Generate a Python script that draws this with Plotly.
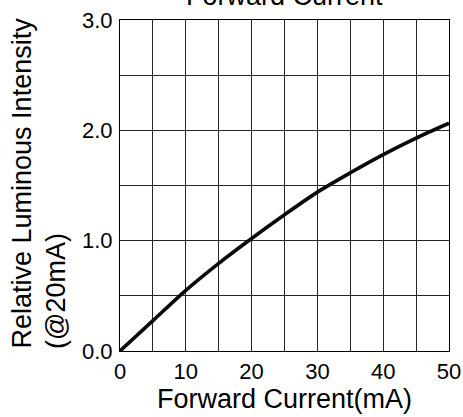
import plotly.graph_objects as go

# Forward current (mA) and relative luminous intensity (normalised at 20 mA)
current_ma = [0, 5, 10, 15, 20, 25, 30, 35, 40, 45, 50]
rel_intensity = [0.0, 0.275, 0.55, 0.795, 1.02, 1.235, 1.44, 1.615, 1.78, 1.93, 2.065]

x_ticks = [0, 10, 20, 30, 40, 50]
y_ticks = [0.0, 1.0, 2.0, 3.0]
y_tick_text = ["0.0", "1.0", "2.0", "3.0"]

FONT = "Liberation Sans, Arial, sans-serif"
GRID = "#262626"

fig = go.Figure()
fig.add_trace(go.Scatter(
    x=current_ma, y=rel_intensity, mode="lines",
    line=dict(color="#0a0a0a", width=3.6, shape="spline", smoothing=0.8),
    hoverinfo="skip", showlegend=False, cliponaxis=False,
))

axis_common = dict(
    showline=True, linecolor="#000000", linewidth=1.2, mirror=True,
    showgrid=True, gridcolor=GRID, gridwidth=1,
    zeroline=False, ticks="", automargin=False,
    tickfont=dict(family=FONT, size=22, color="#000000"),
)

fig.update_xaxes(
    range=[0, 50], tickvals=x_ticks,
    minor=dict(dtick=5, showgrid=True, gridcolor=GRID, gridwidth=1),
    ticklabelstandoff=0,
    title=dict(text="Forward Current(mA)", font=dict(family=FONT, size=27, color="#000000"), standoff=6),
    **axis_common,
)
fig.update_yaxes(
    range=[0, 3], tickvals=y_ticks, ticktext=y_tick_text,
    minor=dict(dtick=0.5, showgrid=True, gridcolor=GRID, gridwidth=1),
    ticklabelstandoff=2,
    **axis_common,
)

# Two-line y-axis title, both lines starting at the bottom of the plot
fig.add_annotation(
    text="Relative Luminous Intensity", textangle=-90,
    xref="paper", yref="paper", x=0, y=0, xanchor="center", yanchor="bottom",
    xshift=-99, yshift=0, showarrow=False,
    font=dict(family=FONT, size=27, color="#000000"),
)
fig.add_annotation(
    text="(@20mA)", textangle=-90,
    xref="paper", yref="paper", x=0, y=0, xanchor="center", yanchor="bottom",
    xshift=-64, yshift=0, showarrow=False,
    font=dict(family=FONT, size=27, color="#000000"),
)

# Chart title, partly above the top edge of the page
fig.add_annotation(
    text="Forward Current",
    xref="paper", yref="paper", x=0.5, y=1, xanchor="center", yanchor="bottom",
    yshift=7, showarrow=False,
    font=dict(family=FONT, size=27, color="#000000"),
)

fig.update_layout(
    width=463, height=417,
    margin=dict(l=120, r=14, t=20, b=66),
    paper_bgcolor="#ffffff", plot_bgcolor="#ffffff",
)

fig.write_html("out.html")
